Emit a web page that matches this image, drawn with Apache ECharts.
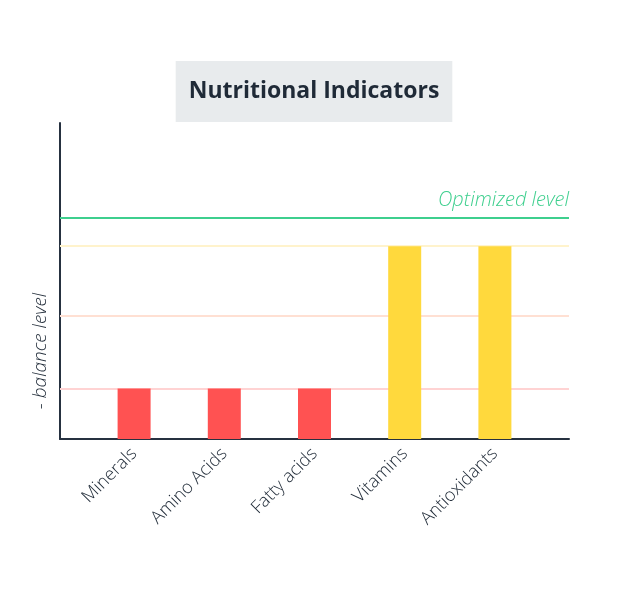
<!DOCTYPE html>
<html lang="en">
<head>
    <meta charset="UTF-8">
    <title>Nutritional Indicators</title>
    <script src="https://cdn.jsdelivr.net/npm/echarts@6/dist/echarts.min.js"></script>
    <style>
        html, body { margin: 0; padding: 0; background: #fff; }
        #main { width: 628px; height: 590px; }
    </style>
</head>
<body>
    <div id="main"></div>
    <script type="text/javascript">
        // categories and bar values (balance level, 0-100 scale)
        var categories = ['Minerals', 'Amino Acids', 'Fatty acids', 'Vitamins', 'Antioxidants'];
        var values = [16, 16, 16, 61, 61];
        // reference levels drawn as horizontal lines
        var levelValues = [16, 39, 61, 70];
        var levelColors = ['#ffd3d3', '#ffe0d3', '#fff3cc', '#3ecf8e'];
        var optimizedLabel = 'Optimized level';
        var lowLimit = 30;

        var font = '"Open Sans", Lato, sans-serif';
        var chart = echarts.init(document.getElementById('main'));

        var lines = [];
        for (var i = 0; i < levelValues.length; i++) {
            var isTop = i == levelValues.length - 1;
            lines.push({
                yAxis: levelValues[i],
                lineStyle: { color: levelColors[i], width: 2, type: 'solid' },
                label: isTop ? {
                    show: true,
                    formatter: optimizedLabel,
                    position: 'insideEndTop',
                    color: '#3ecf8e',
                    fontFamily: font,
                    fontStyle: 'italic',
                    fontWeight: 300,
                    fontSize: 20,
                    distance: [0, 8]
                } : { show: false }
            });
        }

        var option = {
            animation: false,
            title: {
                text: 'Nutritional Indicators',
                left: 'center',
                top: 61,
                backgroundColor: '#e8ebed',
                padding: [19, 13, 19, 13],
                textStyle: {
                    color: '#1f2a37',
                    fontFamily: font,
                    fontWeight: 'bold',
                    fontSize: 23
                }
            },
            grid: [
                { left: 89, width: 451, top: 123, bottom: 151 },
                { left: 60, right: 59, top: 123, bottom: 151 }
            ],
            xAxis: [{
                type: 'category',
                gridIndex: 0,
                data: categories,
                axisLine: { show: false },
                axisTick: { show: false },
                axisLabel: {
                    rotate: 45,
                    margin: 12,
                    color: '#1f2a37',
                    fontFamily: font,
                    fontWeight: 300,
                    fontSize: 18
                }
            }, {
                type: 'value',
                gridIndex: 1,
                min: 0,
                max: 1,
                axisLine: { show: true, lineStyle: { color: '#263140', width: 2 } },
                axisTick: { show: false },
                axisLabel: { show: false },
                splitLine: { show: false }
            }],
            yAxis: [{
                type: 'value',
                gridIndex: 0,
                min: 0,
                max: 100,
                show: false
            }, {
                type: 'value',
                gridIndex: 1,
                min: 0,
                max: 100,
                name: '- balance level',
                nameLocation: 'middle',
                nameGap: 10,
                nameTextStyle: {
                    color: '#1f2a37',
                    fontFamily: font,
                    fontStyle: 'italic',
                    fontWeight: 300,
                    fontSize: 19,
                    padding: [0, 140, 0, 0]
                },
                axisLine: { show: true, lineStyle: { color: '#263140', width: 2 } },
                axisTick: { show: false },
                axisLabel: { show: false },
                splitLine: { show: false }
            }],
            series: [{
                type: 'line',
                xAxisIndex: 1,
                yAxisIndex: 1,
                data: [],
                z: 1,
                silent: true,
                markLine: {
                    silent: true,
                    symbol: 'none',
                    data: lines
                }
            }, {
                type: 'bar',
                xAxisIndex: 0,
                yAxisIndex: 0,
                data: values,
                barWidth: 33,
                z: 5,
                itemStyle: {
                    color: function (p) {
                        return p.value < lowLimit ? '#ff5252' : '#ffd93d';
                    }
                }
            }]
        };

        chart.setOption(option);
    </script>
</body>
</html>
